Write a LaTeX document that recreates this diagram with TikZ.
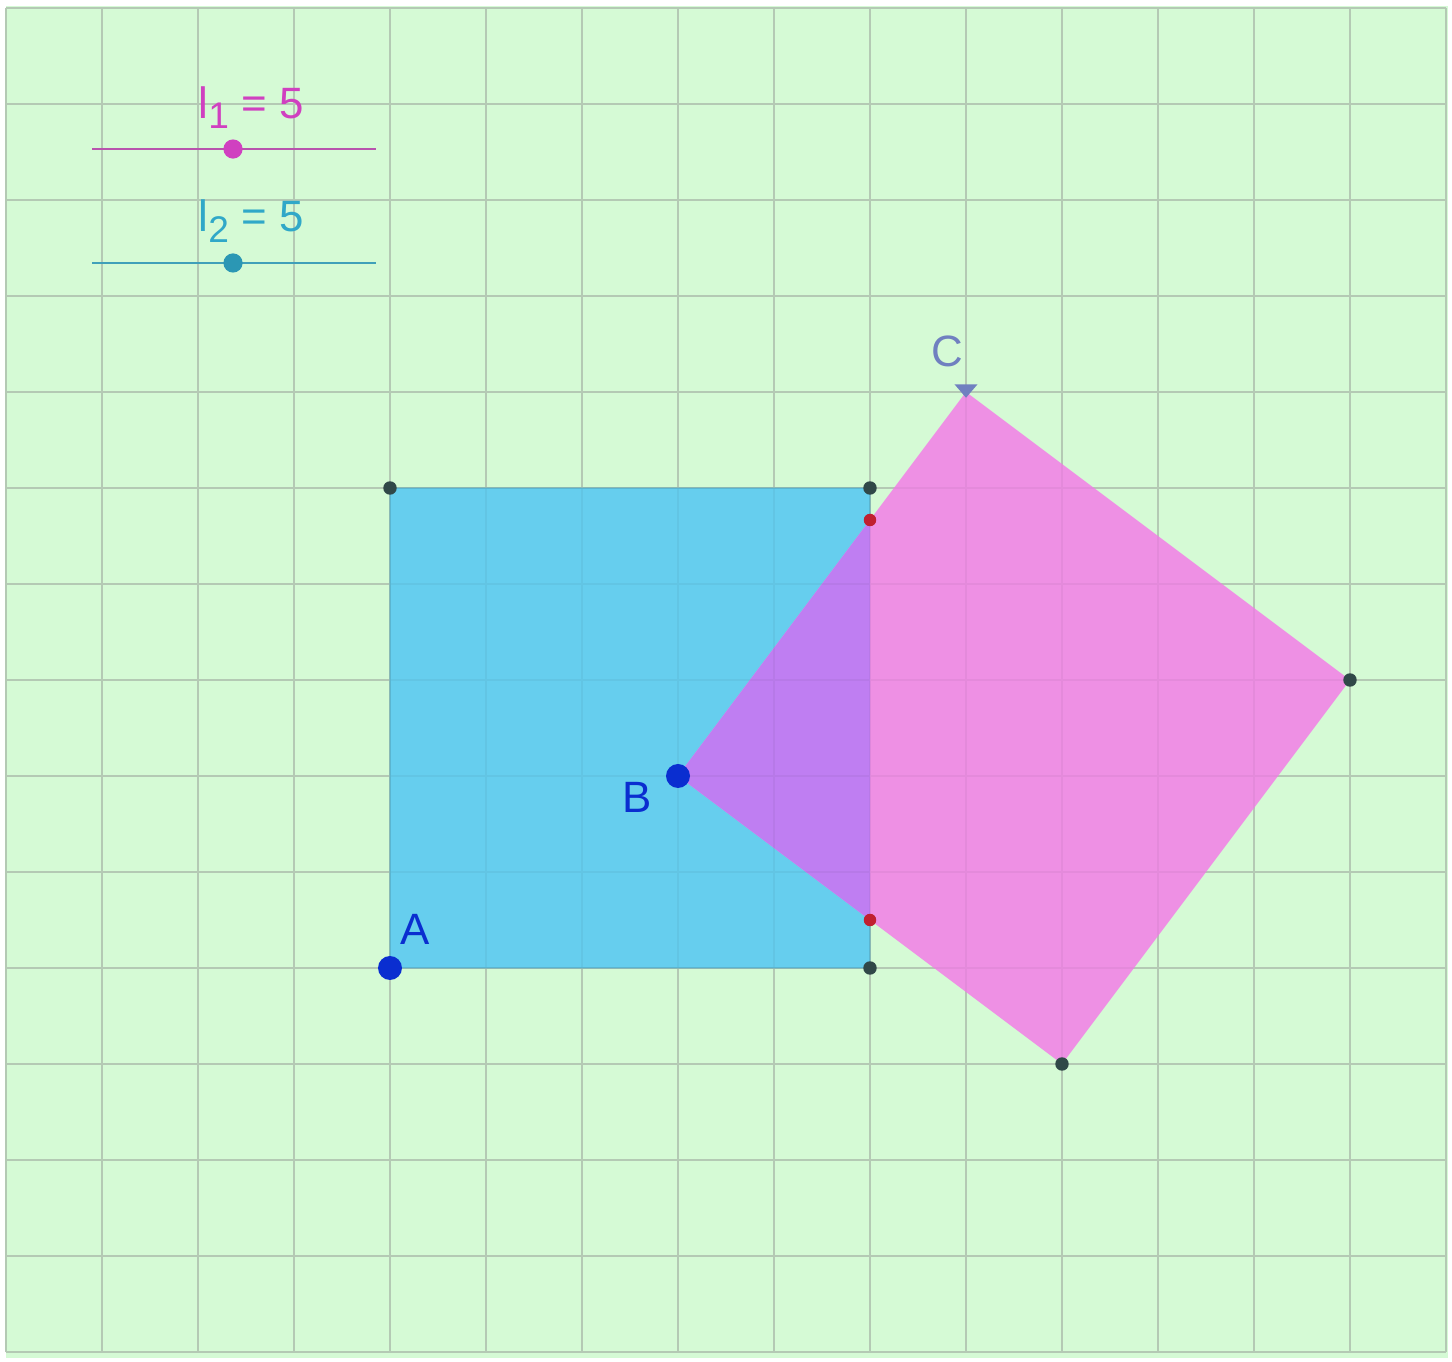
\documentclass[tikz,border=0pt]{standalone}
\usepackage{fontspec}
\setmainfont{Liberation Sans}
\usetikzlibrary{calc}
\definecolor{paper}{HTML}{D5FAD5}
\definecolor{gridgreen}{HTML}{BCD2BC}
\definecolor{sqblue}{HTML}{66CEEE}
\definecolor{sqpink}{HTML}{EE90E4}
\definecolor{sqpurple}{HTML}{BF7EF2}
\definecolor{ptblue}{HTML}{0A2ED0}
\definecolor{ptdark}{HTML}{304848}
\definecolor{ptred}{HTML}{C02030}
\definecolor{slpink}{HTML}{D040C0}
\definecolor{slcyan}{HTML}{30A8C8}
\definecolor{clabel}{HTML}{7080C0}
\newcommand{\lsub}[1]{\raisebox{-0.45ex}{\fontsize{11}{13}\selectfont #1}}
\begin{document}
\begin{tikzpicture}[
  bigdot/.style={circle, fill=ptblue, inner sep=0pt, minimum size=0.25cm},
  smalldot/.style={circle, fill=ptdark, inner sep=0pt, minimum size=0.14cm},
  reddot/.style={circle, fill=ptred, inner sep=0pt, minimum size=0.13cm},
  lbl/.style={font=\fontsize{13}{15}\selectfont, inner sep=0pt}
]
\useasboundingbox (-4.0625,-4.0938) rectangle (11.0625,10.0833);
\fill[white] (-4.0625,-4.0938) rectangle (11.0625,10.0833);
\fill[paper] (-4,-4.06) rectangle (11.02,10.02);
\draw[gridgreen, line width=0.6pt] (-4,-4) grid (11,10);
% squares
\coordinate (A) at (0,0);
\coordinate (B) at (3,2);
\coordinate (C) at (6,6);
\coordinate (D) at (10,3);
\coordinate (E) at (7,-1);
\coordinate (F) at (5,0);
\coordinate (G) at (5,5);
\coordinate (H) at (0,5);
\coordinate (P) at (5,4.6667);
\coordinate (Q) at (5,0.5);
\fill[sqblue] (A) -- (F) -- (G) -- (H) -- cycle;
\draw[sqblue!80!black, opacity=0.4, thin] (A) -- (F) -- (G) -- (H) -- cycle;
\fill[sqpink] (B) -- (C) -- (D) -- (E) -- cycle;
\fill[sqpurple] (B) -- (P) -- (Q) -- cycle;
\draw[black, opacity=0.04, line width=0.6pt] (-4,-4) grid (11,10);
% sliders
\draw[slpink!70!gray, line width=0.8pt] (-3.104,8.531) -- (-0.146,8.531);
\fill[slpink] (-1.635,8.531) circle (0.1);
\node[lbl, text=slpink, anchor=base west] (l1) at (-2.0,8.85) {l\lsub{1} = 5};
\draw[slcyan!80!gray, line width=0.8pt] (-3.104,7.344) -- (-0.146,7.344);
\fill[slcyan!90!black] (-1.635,7.344) circle (0.1);
\node[lbl, text=slcyan, anchor=base west] (l2) at (-2.0,7.67) {l\lsub{2} = 5};
% points
\node[smalldot] at (G) {};
\node[smalldot] at (H) {};
\node[smalldot] at (F) {};
\node[smalldot] at (D) {};
\node[smalldot] at (E) {};
\node[reddot] at (P) {};
\node[reddot] at (Q) {};
\node[bigdot] (a) at (A) {};
\node[bigdot] (b) at (B) {};
\fill[clabel] ($(C)+(-0.12,0.08)$) -- ++(0.24,0) -- ++(-0.12,-0.14) -- cycle;
\node[lbl, text=ptblue] (la) at (0.26,0.40) {A};
\node[lbl, text=ptblue] (lb) at (2.57,1.78) {B};
\node[lbl, text=clabel] (lc) at (5.81,6.42) {C};
\end{tikzpicture}
\end{document}
